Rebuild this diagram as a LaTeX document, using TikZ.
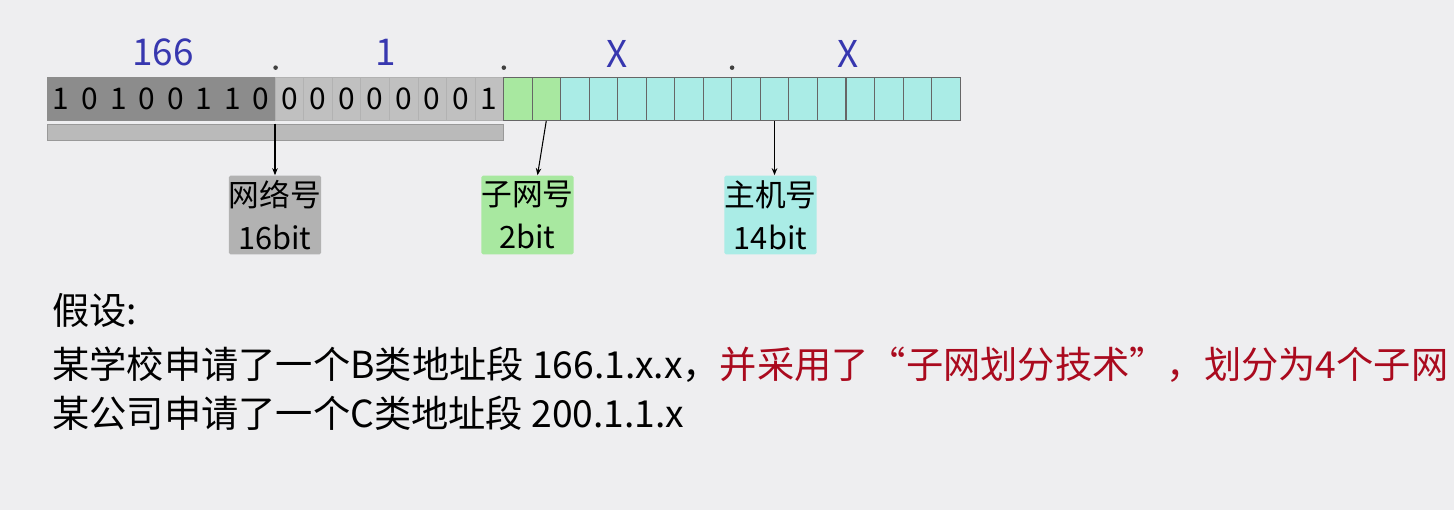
\documentclass[tikz,border=0pt]{standalone}
\usepackage{fontspec}
\newfontfamily\cjk{Noto Sans CJK SC}
\usetikzlibrary{arrows.meta}
\definecolor{bgpage}{RGB}{238,238,240}
\definecolor{netdark}{RGB}{140,140,140}
\definecolor{netlight}{RGB}{192,192,192}
\definecolor{subgreen}{RGB}{168,232,160}
\definecolor{hostcyan}{RGB}{170,236,230}
\definecolor{octblue}{RGB}{55,55,175}
\definecolor{notered}{RGB}{170,10,30}
\tikzset{
  bitcell/.style={line width=0.4pt, minimum width=0.5706cm, minimum height=0.86cm, inner sep=0pt, font=\cjk\fontsize{17}{17}\selectfont},
  octet/.style={text=octblue, inner sep=0pt, font=\cjk\fontsize{21}{21}\selectfont},
  partbox/.style={minimum width=1.82cm, minimum height=1.58cm, inner sep=0pt, align=center, rounded corners=1pt, font=\cjk\fontsize{17.5}{24.5}\selectfont},
  ptr/.style={draw=black, line width=0.6pt, -{Stealth[length=4pt,width=3.2pt]}},
  note/.style={anchor=west, inner sep=0pt, font=\cjk\fontsize{21.2}{24}\selectfont},
}
\begin{document}
\begin{tikzpicture}[x=0.02cm, y=-0.02cm]
    \fill[bgpage] (0,0) rectangle (1454,510);
    % 32 bits: network part (166.1), subnet part, host part
    \foreach \b [count=\i] in {1,0,1,0,0,1,1,0}
        \node[bitcell, draw=black!45, fill=netdark] (c\i) at ({47+28.53*(\i-0.5)},99) {\b};
    \foreach \b [count=\i from 9] in {0,0,0,0,0,0,0,1}
        \node[bitcell, draw=black!30, fill=netlight] (c\i) at ({47+28.53*(\i-0.5)},99) {\b};
    \foreach \i in {17,18}
        \node[bitcell, draw=black!60, fill=subgreen] (c\i) at ({47+28.53*(\i-0.5)},99) {};
    \foreach \i in {19,...,32}
        \node[bitcell, draw=black!60, fill=hostcyan] (c\i) at ({47+28.53*(\i-0.5)},99) {};
    \node (netbar) [draw=black!40, fill=black!27, minimum width=9.12cm, minimum height=0.32cm, inner sep=0pt] at (275,132) {};
    % dotted decimal labels
    \node (o1) [octet] at (163,52) {166};
    \node (o2) [octet] at (386,52) {1};
    \node (o3) [octet] at (617,54) {X};
    \node (o4) [octet] at (848,54) {X};
    \foreach \k in {8,16,24}
        \fill[black!75] ([yshift=0.19cm]c\k.north east) circle (1.3pt);
    % parts
    \node (netid)  [partbox, fill=black!30] at (275,215) {网络号\\16bit};
    \node (subid)  [partbox, fill=subgreen] at (527.5,215) {子网号\\2bit};
    \node (hostid) [partbox, fill=hostcyan] at (770.5,215) {主机号\\14bit};
    \draw[ptr] (netbar.north) -- (netid.north);
    \draw[ptr] (c18.south) -- ([xshift=0.2cm]subid.north);
    \draw[ptr] (c26.south) -- (c26.south |- hostid.north);
    % notes
    \node (assume)  [note] at (52,310) {假设:};
    \node (school)  [note] at (52,365) {某学校申请了一个B类地址段 166.1.x.x，\textcolor{notered}{并采用了“子网划分技术”，划分为4个子网}};
    \node (company) [note] at (52,413) {某公司申请了一个C类地址段 200.1.1.x};
\end{tikzpicture}
\end{document}
